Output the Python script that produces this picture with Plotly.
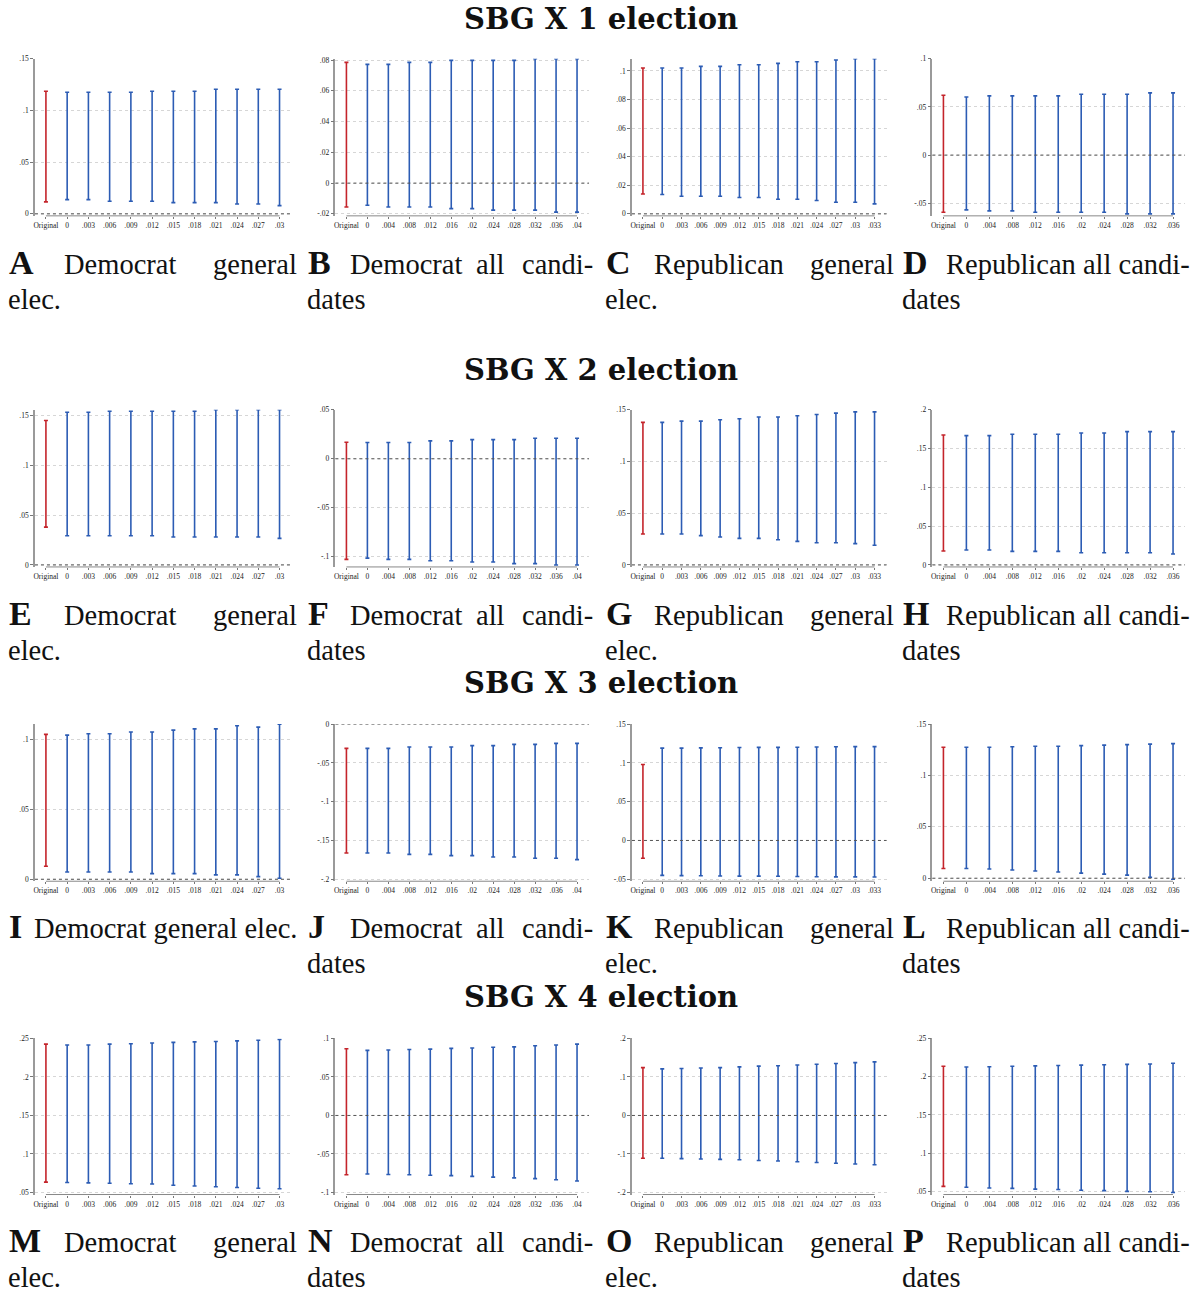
import plotly.graph_objects as go

W, H = 1199, 1295

# ---------------- categories (tick labels) ----------------
cats_dem_gen = ["Original", "0", ".003", ".006", ".009", ".012", ".015", ".018", ".021", ".024", ".027", ".03"]
cats_dem_all = ["Original", "0", ".004", ".008", ".012", ".016", ".02", ".024", ".028", ".032", ".036", ".04"]
cats_rep_gen = ["Original", "0", ".003", ".006", ".009", ".012", ".015", ".018", ".021", ".024", ".027", ".03", ".033"]
cats_rep_all = ["Original", "0", ".004", ".008", ".012", ".016", ".02", ".024", ".028", ".032", ".036"]

# ---------------- interval bounds ----------------
a_lo = [.0116, .0138, .0138, .0122, .0122, .0122, .0109, .0109, .0109, .0096, .0096, .008]
a_hi = [.1185, .1176, .1176, .1176, .1176, .1185, .1185, .1185, .1205, .1205, .1205, .1205]
b_lo = [-.0155, -.0144, -.0155, -.0155, -.0155, -.0166, -.0166, -.0176, -.0176, -.0176, -.0189, -.0189]
b_hi = [.0785, .0772, .0772, .0785, .0785, .0798, .0798, .0798, .0798, .0809, .0809, .0809]
c_lo = [.0139, .0135, .0123, .0123, .0123, .0114, .0114, .0102, .0102, .0093, .0081, .0081, .007]
c_hi = [.1021, .1021, .1021, .1032, .1032, .1044, .1044, .1053, .1065, .1065, .1077, .1086, .1086]
d_lo = [-.0593, -.0569, -.0579, -.0579, -.0593, -.0593, -.0593, -.0593, -.061, -.061, -.061]
d_hi = [.0621, .0603, .0614, .0614, .0614, .0614, .0631, .0631, .0631, .0645, .0645]

e_lo = [.038, .0293, .0293, .0293, .0293, .0293, .028, .028, .028, .028, .028, .0267]
e_hi = [.145, .1533, .1533, .1543, .1543, .1543, .1543, .1543, .1557, .1557, .1557, .1557]
f_lo = [-.1026, -.1013, -.1026, -.1026, -.104, -.104, -.1053, -.1053, -.107, -.107, -.1083, -.1083]
f_hi = [.0169, .0166, .0166, .0166, .0183, .0183, .0196, .0196, .0196, .021, .021, .021]
g_lo = [.0299, .0299, .0299, .0283, .027, .0257, .0257, .0244, .0228, .0215, .0215, .0206, .019]
g_hi = [.1378, .1378, .139, .139, .1404, .1413, .143, .143, .1442, .1455, .1468, .148, .148]
h_lo = [.018, .0192, .0192, .0175, .0175, .0175, .0158, .0158, .0158, .0158, .0141]
h_hi = [.1675, .1667, .1667, .1684, .1684, .1684, .1701, .1701, .1718, .1718, .1718]

i_lo = [.0093, .0052, .0052, .0052, .0052, .004, .004, .004, .0031, .0031, .0019, .0007]
i_hi = [.1038, .1033, .1043, .1043, .1055, .1055, .1069, .1078, .1078, .11, .109, .1112]
j_lo = [-.1662, -.1662, -.1662, -.1679, -.1679, -.1696, -.1696, -.1713, -.1713, -.173, -.173, -.1747]
j_hi = [-.0313, -.0313, -.0313, -.0296, -.0296, -.0296, -.0278, -.0278, -.0261, -.0261, -.0248, -.0248]
k_lo = [-.023, -.045, -.0453, -.0455, -.0458, -.046, -.046, -.0462, -.0465, -.0468, -.047, -.047, -.0472]
k_hi = [.098, .119, .119, .1193, .1195, .1198, .12, .12, .1202, .1205, .1207, .121, .121]
l_lo = [.0095, .0095, .009, .008, .007, .006, .005, .004, .003, .001, -.001]
l_hi = [.1275, .1275, .1275, .128, .1285, .1285, .129, .1295, .13, .1305, .131]

m_lo = [.0635, .063, .0625, .062, .0615, .061, .0595, .0585, .0575, .0565, .0555, .055]
m_hi = [.2425, .2415, .2415, .2425, .243, .244, .2448, .2455, .246, .2468, .2475, .2485]
n_lo = [-.077, -.076, -.0765, -.077, -.0775, -.078, -.079, -.08, -.081, -.082, -.0835, -.085]
n_hi = [.0865, .0845, .085, .0855, .086, .087, .0875, .0885, .089, .0905, .0915, .0925]
o_lo = [-.111, -.111, -.112, -.113, -.114, -.115, -.117, -.118, -.12, -.122, -.124, -.126, -.128]
o_hi = [.124, .121, .122, .123, .124, .126, .128, .129, .131, .133, .135, .137, .139]
p_lo = [.0565, .0555, .0545, .054, .053, .0525, .0515, .051, .05, .0495, .0485]
p_hi = [.2135, .2125, .213, .2135, .214, .2145, .215, .2155, .216, .2165, .2175]

# ---------------- y tick values ----------------
yt_a = [0, .05, .1, .15]
yt_b = [-.02, 0, .02, .04, .06, .08]
yt_c = [0, .02, .04, .06, .08, .1]
yt_d = [-.05, 0, .05, .1]
yt_e = [0, .05, .1, .15]
yt_f = [-.1, -.05, 0, .05]
yt_g = [0, .05, .1, .15]
yt_h = [0, .05, .1, .15, .2]
yt_i = [0, .05, .1]
yt_j = [-.2, -.15, -.1, -.05, 0]
yt_k = [-.05, 0, .05, .1, .15]
yt_l = [0, .05, .1, .15]
yt_m = [.05, .1, .15, .2, .25]
yt_n = [-.1, -.05, 0, .05, .1]
yt_o = [-.2, -.1, 0, .1, .2]
yt_p = [.05, .1, .15, .2, .25]

titles = ["SBG X 1 election", "SBG X 2 election", "SBG X 3 election", "SBG X 4 election"]
letters = list("ABCDEFGHIJKLMNOP")
party = ["Democrat", "Democrat", "Republican", "Republican"]

panels = [
    (cats_dem_gen, a_lo, a_hi, yt_a), (cats_dem_all, b_lo, b_hi, yt_b),
    (cats_rep_gen, c_lo, c_hi, yt_c), (cats_rep_all, d_lo, d_hi, yt_d),
    (cats_dem_gen, e_lo, e_hi, yt_e), (cats_dem_all, f_lo, f_hi, yt_f),
    (cats_rep_gen, g_lo, g_hi, yt_g), (cats_rep_all, h_lo, h_hi, yt_h),
    (cats_dem_gen, i_lo, i_hi, yt_i), (cats_dem_all, j_lo, j_hi, yt_j),
    (cats_rep_gen, k_lo, k_hi, yt_k), (cats_rep_all, l_lo, l_hi, yt_l),
    (cats_dem_gen, m_lo, m_hi, yt_m), (cats_dem_all, n_lo, n_hi, yt_n),
    (cats_rep_gen, o_lo, o_hi, yt_o), (cats_rep_all, p_lo, p_hi, yt_p),
]

# ---------------- layout geometry (pixels) ----------------
col_px = [(33, 290), (334, 588), (631, 886), (932, 1185)]
row_px = [(55, 211), (408, 564), (724, 880), (1040, 1195)]
title_y = [15, 368, 683, 998]
cap_y = [262, 615, 930, 1245]
cap_x = [5, 305, 603, 901]

RED = "#c4242b"
BLUE = "#2c5cb4"
SERIF = "Liberation Serif"
TITLE_FONT = "DejaVu Serif"


def stata_fmt(v):
    if abs(v) < 1e-12:
        return "0"
    s = ("%g" % v)
    s = s.replace("0.", ".")
    return s


fig = go.Figure()
shapes = []
annotations = []


def ann(x, y, text, font, xanchor="left"):
    annotations.append(dict(xref="paper", yref="paper", x=x / W, y=1 - y / H,
                            xanchor=xanchor, yanchor="middle", showarrow=False,
                            text=text, font=font, borderpad=0))


for k, (cats, lo, hi, yt) in enumerate(panels):
    r, c = divmod(k, 4)
    idx = k + 1
    xa = "x" if idx == 1 else f"x{idx}"
    ya = "y" if idx == 1 else f"y{idx}"
    n = len(cats)
    x0p, x1p = col_px[c]
    ytp, ybp = row_px[r]
    s = (x1p - x0p - 23) / (n - 1)
    xr = [-11 / s, n - 1 + 12 / s]
    hi_r = max(max(yt), max(hi))
    lo_r = min(min(yt), min(lo))
    pad = (hi_r - lo_r) * 2 / (ybp - ytp)
    yr = [lo_r - pad, hi_r]

    xs = list(range(n))
    for sel, col in ((slice(0, 1), RED), (slice(1, n), BLUE)):
        xv = xs[sel]
        lv = lo[sel]
        hv = hi[sel]
        fig.add_trace(go.Scatter(
            x=xv, y=lv, mode="markers",
            marker=dict(size=1, color="rgba(0,0,0,0)"),
            error_y=dict(type="data", symmetric=False,
                         array=[h - l for h, l in zip(hv, lv)],
                         arrayminus=[0] * len(lv),
                         color=col, thickness=1.6, width=2),
            xaxis=xa, yaxis=ya, showlegend=False, hoverinfo="skip",
            cliponaxis=False,
        ))

    xkey = "xaxis" if idx == 1 else f"xaxis{idx}"
    ykey = "yaxis" if idx == 1 else f"yaxis{idx}"
    fig.layout[xkey] = dict(
        domain=[x0p / W, x1p / W], range=xr, anchor=ya,
        tickvals=xs, ticktext=cats, ticks="outside", ticklen=2, tickcolor="#777",
        tickfont=dict(family=SERIF, size=7.5, color="#222"),
        showgrid=False, zeroline=False, showline=False, fixedrange=True,
    )
    fig.layout[ykey] = dict(
        domain=[1 - (ybp + 2) / H, 1 - ytp / H], range=yr, anchor=xa,
        tickvals=yt, ticktext=[stata_fmt(v) for v in yt],
        ticks="outside", ticklen=3, tickcolor="#777",
        tickfont=dict(family=SERIF, size=7.5, color="#222"),
        showgrid=True, gridcolor="#d6d6d6", griddash="dot", gridwidth=1,
        zeroline=False, showline=True, linecolor="#9a9a9a", linewidth=1.5,
        fixedrange=True,
    )
    # x axis line from first to last category (Stata style)
    shapes.append(dict(type="line", xref=xa, x0=0, x1=n - 1,
                       yref=f"{ya} domain", y0=0, y1=0,
                       line=dict(color="#888", width=1)))
    # reference line at zero
    if yr[0] <= 0 <= yr[1]:
        shapes.append(dict(type="line", xref=f"{xa} domain", x0=0, x1=1,
                           yref=ya, y0=0, y1=0,
                           line=dict(color="#555", width=1, dash="dot")))

    # ---------------- caption ----------------
    cx = cap_x[c]
    y1 = cap_y[r]
    y2 = cap_y[r] + 35
    txt = dict(family=SERIF, size=28.5, color="#111")
    ann(cx + 1, y1 - 2, f"<b>{letters[k]}</b>", dict(family=SERIF, size=34, color="#111"))
    if r == 2 and c == 0:
        ann(cx + 291, y1, f"{party[c]} general elec.", txt, "right")
    elif c in (0, 2):
        off = 56 if c == 0 else 49
        ann(cx + off, y1, party[c], txt)
        ann(cx + 291, y1, "general", txt, "right")
        ann(cx, y2, "elec.", txt)
    elif c == 1:
        ann(cx + 43, y1, party[c], txt)
        ann(cx + 169, y1, "all", txt)
        ann(cx + 288, y1, "candi-", txt, "right")
        ann(cx, y2, "dates", txt)
    else:
        ann(cx + 290, y1, f"{party[c]} all candi-", txt, "right")
        ann(cx, y2, "dates", txt)

for r, t in enumerate(titles):
    ann(600, title_y[r], f"<b>{t}</b>", dict(family=TITLE_FONT, size=29, color="#111"), "center")

fig.update_layout(
    width=W, height=H, margin=dict(l=0, r=0, t=0, b=0),
    paper_bgcolor="white", plot_bgcolor="white",
    shapes=shapes, annotations=annotations, showlegend=False,
)

fig.write_html("out.html")
